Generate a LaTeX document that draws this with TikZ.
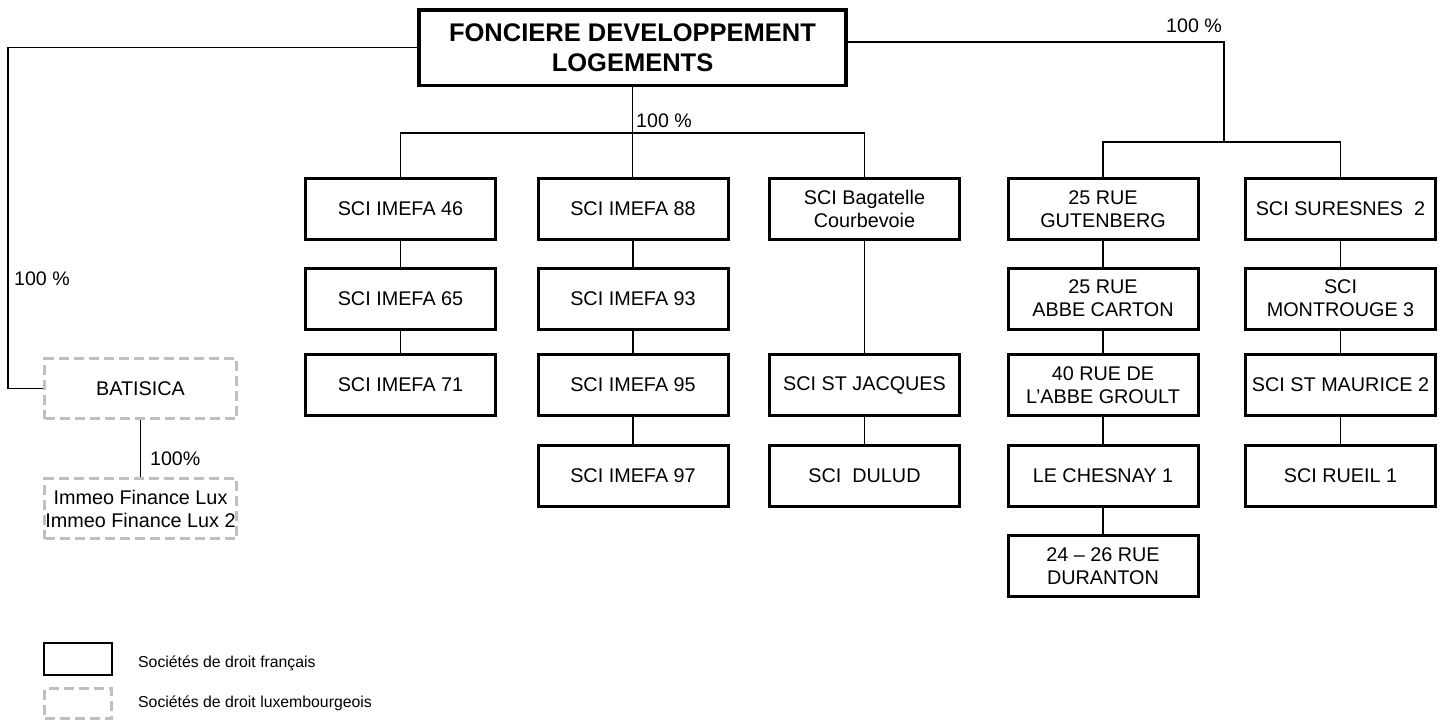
\documentclass[tikz,border=0pt]{standalone}
\usepackage{fontspec}
\setmainfont{Liberation Sans}
\definecolor{lgray}{RGB}{191,191,191}
\begin{document}
\begin{tikzpicture}[x=1pt,y=-1pt,
  fr/.style={draw=black, line width=3pt, minimum width=190pt, minimum height=61pt, inner sep=0pt, align=center, font=\fontsize{19.8}{23.3}\selectfont},
  lu/.style={draw=lgray, line width=3pt, dash pattern=on 10pt off 5pt, minimum width=192pt, minimum height=60pt, inner sep=0pt, align=center, font=\fontsize{19.8}{23}\selectfont},
  conn/.style={line width=1.3pt},
  lbl/.style={font=\fontsize{19.6}{23}\selectfont, inner sep=0pt, anchor=base west},
  leg/.style={font=\fontsize{15.8}{18}\selectfont, inner sep=0pt, anchor=base west}]
\useasboundingbox (0,0) rectangle (1445,724);

% title
\node[draw, line width=3.5pt, minimum width=427pt, minimum height=75.5pt, inner sep=0pt, align=center, font=\bfseries\fontsize{25.5}{30}\selectfont] (title) at (632.5,47.5) {FONCIERE DEVELOPPEMENT\\LOGEMENTS};

% column 1
\node[fr] (c1r1) at (400.5,209) {SCI IMEFA 46};
\node[fr] (c1r2) at (400.5,298.5) {SCI IMEFA 65};
\node[fr] (c1r3) at (400.5,385) {SCI IMEFA 71};
% column 2
\node[fr] (c2r1) at (633,209) {SCI IMEFA 88};
\node[fr] (c2r2) at (633,298.5) {SCI IMEFA 93};
\node[fr] (c2r3) at (633,385) {SCI IMEFA 95};
\node[fr] (c2r4) at (633,475.5) {SCI IMEFA 97};
% column 3
\node[fr] (c3r1) at (864.5,209) {SCI Bagatelle\\Courbevoie};
\node[fr] (c3r3) at (864.5,385) {SCI ST JACQUES};
\node[fr] (c3r4) at (864.5,475.5) {SCI\ \ DULUD};
% column 4
\node[fr] (c4r1) at (1103,209) {25 RUE\\GUTENBERG};
\node[fr] (c4r2) at (1103,298.5) {25 RUE\\ABBE CARTON};
\node[fr] (c4r3) at (1103,385) {40 RUE DE\\L’ABBE GROULT};
\node[fr] (c4r4) at (1103,475.5) {LE CHESNAY 1};
\node[fr] (c4r5) at (1103,566) {24 – 26 RUE\\DURANTON};
% column 5
\node[fr] (c5r1) at (1340.5,209) {SCI SURESNES\ \ 2};
\node[fr] (c5r2) at (1340.5,298.5) {SCI\\MONTROUGE 3};
\node[fr] (c5r3) at (1340.5,385) {SCI ST MAURICE 2};
\node[fr] (c5r4) at (1340.5,475.5) {SCI RUEIL 1};

% luxembourg
\node[lu] (bat) at (140.5,388.5) {BATISICA};
\node[lu] (imm) at (140.5,508.5) {Immeo Finance Lux\\Immeo Finance Lux 2};

% coordinates for buses
\coordinate (cbus) at (632.5,133);
\coordinate (rtop) at (1224,42);
\coordinate (rbus) at (1224,142);
\coordinate (lx) at (8,0);

% connectors
\draw[conn] (title.south) -- (title.south |- c2r1.north);
\draw[conn] (c1r1.north) -- (c1r1.north |- cbus) -- (c3r1.north |- cbus) -- (c3r1.north);
\draw[conn] (title.east |- rtop) -- (rtop) -- (rbus);
\draw[conn] (c4r1.north) -- (c4r1.north |- rbus) -- (c5r1.north |- rbus) -- (c5r1.north);
\draw[conn] (title.west) -- (title.west -| lx) -- (bat.west -| lx) -- (bat.west);

\draw[conn] (c1r1) -- (c1r2);
\draw[conn] (c1r2) -- (c1r3);
\draw[conn] (c2r1) -- (c2r2);
\draw[conn] (c2r2) -- (c2r3);
\draw[conn] (c2r3) -- (c2r4);
\draw[conn] (c3r1) -- (c3r3);
\draw[conn] (c3r3) -- (c3r4);
\draw[conn] (c4r1) -- (c4r2);
\draw[conn] (c4r2) -- (c4r3);
\draw[conn] (c4r3) -- (c4r4);
\draw[conn] (c4r4) -- (c4r5);
\draw[conn] (c5r1) -- (c5r2);
\draw[conn] (c5r2) -- (c5r3);
\draw[conn] (c5r3) -- (c5r4);
\draw[conn] (bat) -- (imm);

% labels
\node[lbl] (lab1) at (14,285) {100 \%};
\node[lbl] (lab2) at (636,127) {100 \%};
\node[lbl] (lab3) at (1166,32) {100 \%};
\node[lbl] (lab4) at (150,465) {100\%};

% legend
\node[draw, line width=2pt, minimum width=68pt, minimum height=32pt, inner sep=0pt] (legfr) at (78,659) {};
\node[draw=lgray, line width=3pt, dash pattern=on 10pt off 5pt, minimum width=67pt, minimum height=30pt, inner sep=0pt] (leglu) at (78,703.5) {};
\node[leg] (legt1) at (138,667) {Sociétés de droit français};
\node[leg] (legt2) at (138,707) {Sociétés de droit luxembourgeois};
\end{tikzpicture}
\end{document}
